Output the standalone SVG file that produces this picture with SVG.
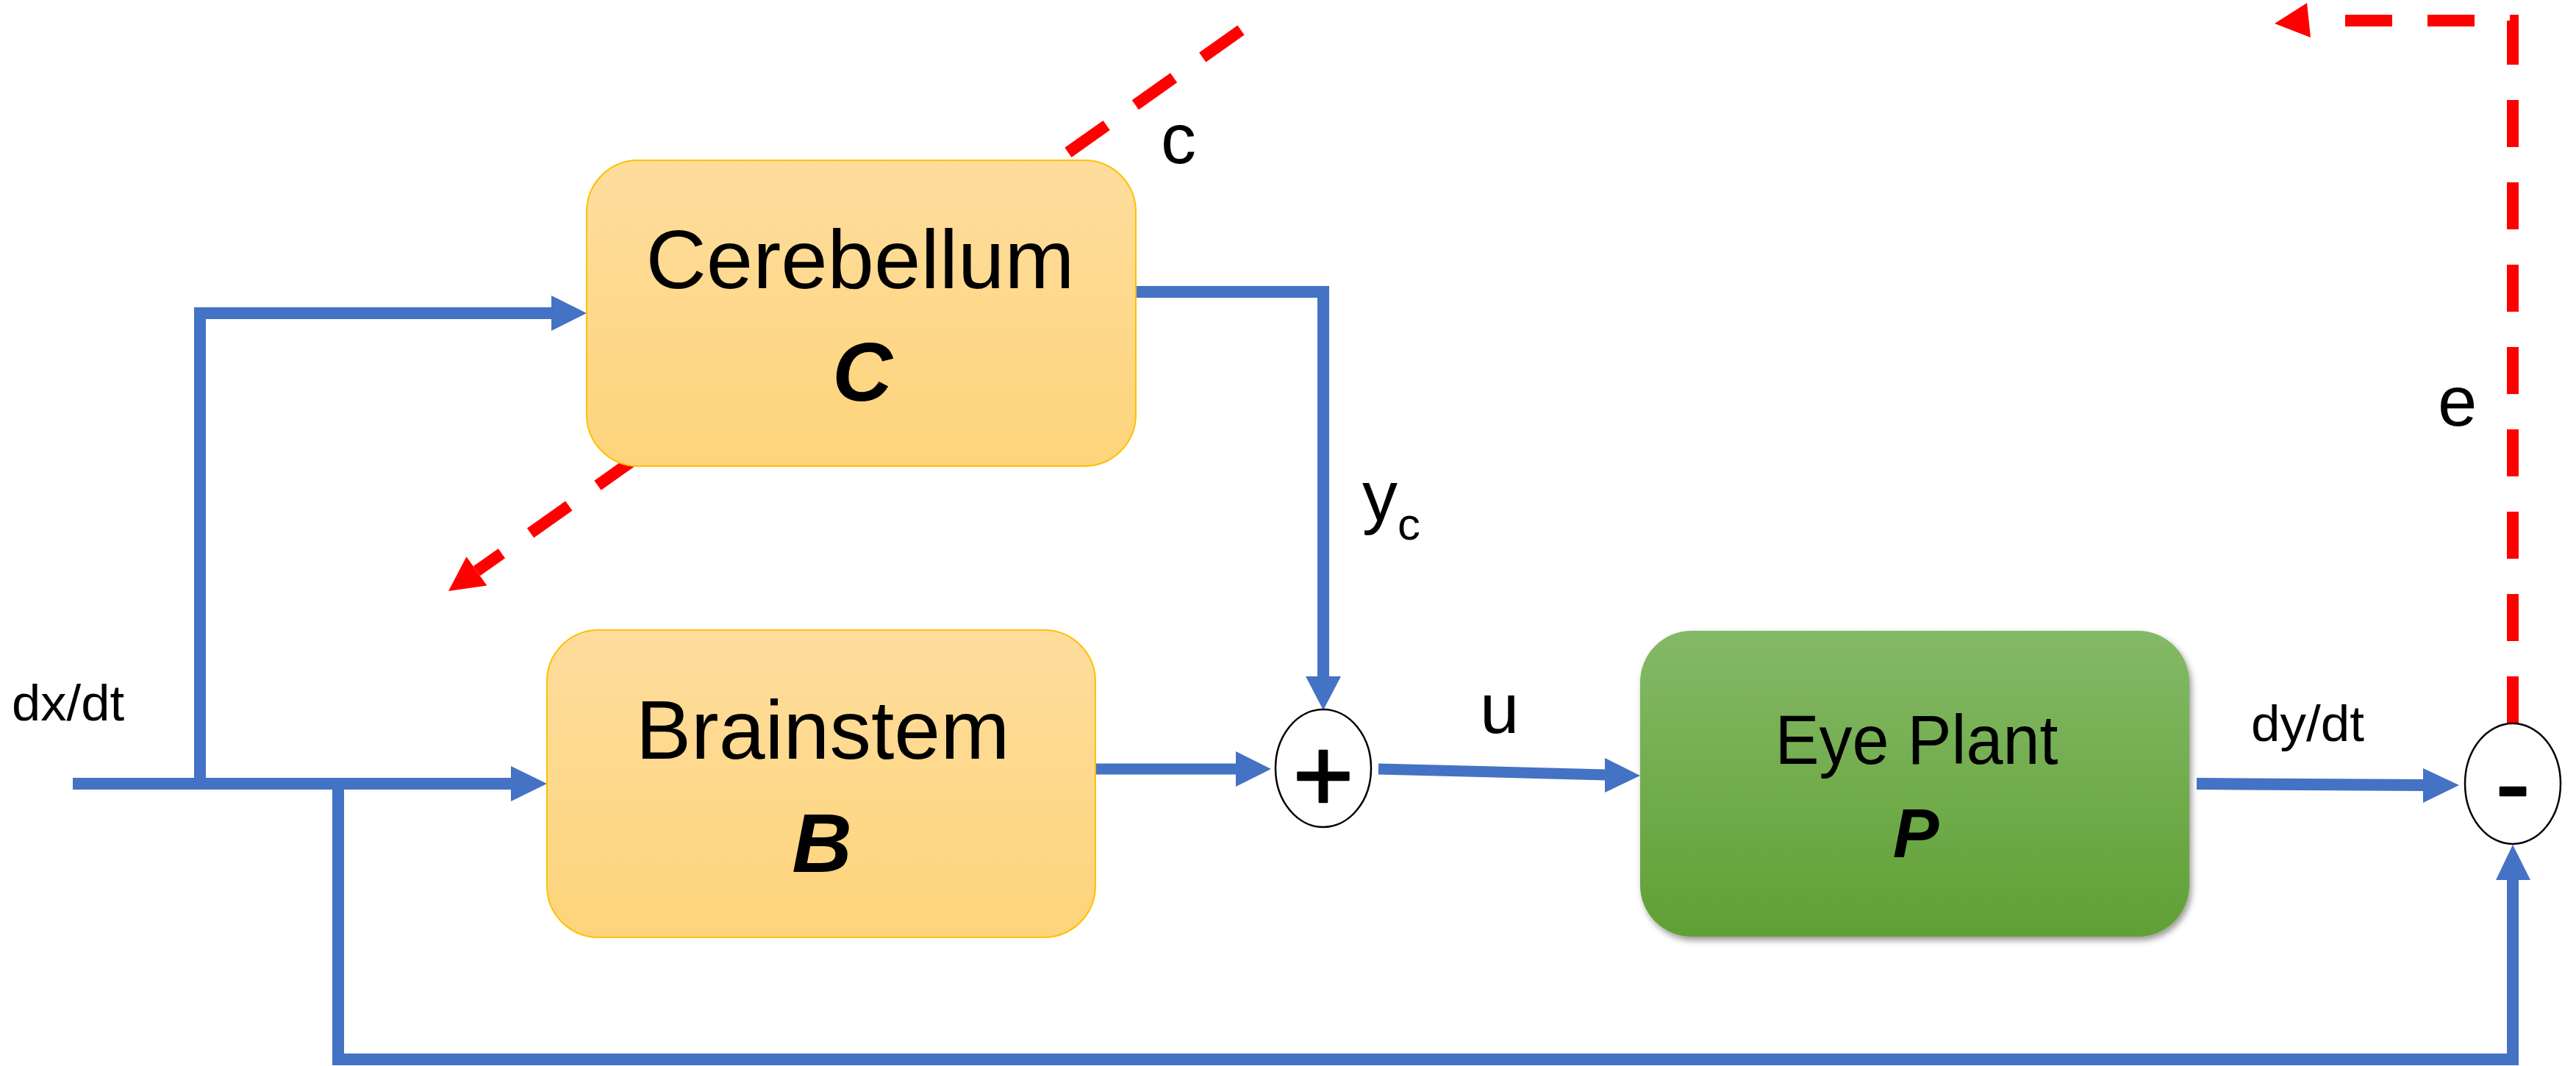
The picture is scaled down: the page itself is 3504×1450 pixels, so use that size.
<svg xmlns="http://www.w3.org/2000/svg" width="3504" height="1450" viewBox="0 0 3504 1450">
  <style>
    text { font-family: "Liberation Sans", Arial, sans-serif; fill: #000000; }
    .title { font-size: 114px; text-anchor: middle; }
    .sym { font-size: 113px; font-weight: bold; font-style: italic; text-anchor: middle; }
    .lbl { font-size: 96px; }
    .rate { font-size: 68px; }
    .op { text-anchor: middle; stroke: #000000; stroke-width: 2.5; stroke-linejoin: round; }
    .flow { fill: none; stroke: #4472C4; stroke-width: 16; stroke-linejoin: miter; }
    .head { fill: #4472C4; stroke: none; }
    .err { fill: none; stroke: #FF0000; stroke-width: 16; stroke-dasharray: 64 48; stroke-linejoin: miter; }
    .errhead { fill: #FF0000; stroke: none; }
    .orange { fill: url(#goldFill); stroke: #FFC000; stroke-width: 2; }
    .green { fill: url(#greenFill); filter: url(#shadow); }
    .junction { fill: #FFFFFF; stroke: #000000; stroke-width: 2.5; }
  </style>
  <defs>
    <linearGradient id="goldFill" x1="0" y1="0" x2="0" y2="1">
      <stop offset="0" stop-color="#FEDD9D"/>
      <stop offset="1" stop-color="#FED47B"/>
    </linearGradient>
    <linearGradient id="greenFill" x1="0" y1="0" x2="0" y2="1">
      <stop offset="0" stop-color="#84B967"/>
      <stop offset="1" stop-color="#60A034"/>
    </linearGradient>
    <filter id="shadow" x="-5%" y="-5%" width="115%" height="120%">
      <feDropShadow dx="3" dy="5" stdDeviation="4" flood-color="#000000" flood-opacity="0.4"/>
    </filter>
  </defs>

  <rect width="3504" height="1450" fill="#FFFFFF"/>

  <g id="connectors">
    <!-- learning signal c, passing behind the cerebellum block -->
    <path class="err" d="M1688 41 L648.4 776.8"/>
    <polygon class="errhead" points="610,804 662.3,796.4 634.5,757.2"/>
    <!-- error e, fed back to the top -->
    <path class="err" d="M3418 984 V28 H3142"/>
    <polygon class="errhead" points="3094,32 3138,4 3143,51"/>

    <!-- input dx/dt to brainstem -->
    <path class="flow" d="M99 1066 H696"/>
    <polygon class="head" points="695,1042 744,1066 695,1090"/>
    <!-- branch to cerebellum -->
    <path class="flow" d="M272 1066 V426 H751"/>
    <polygon class="head" points="750,402 798,426 750,450"/>
    <!-- branch to comparator -->
    <path class="flow" d="M460 1066 V1441 H3418 V1196"/>
    <polygon class="head" points="3395,1197 3418,1149 3442,1197"/>
    <!-- cerebellum output y_c -->
    <path class="flow" d="M1537 397 H1800 V921"/>
    <polygon class="head" points="1776,920 1800,966 1824,920"/>
    <!-- brainstem output to summing junction -->
    <path class="flow" d="M1490 1046 H1682" style="stroke-width:15"/>
    <polygon class="head" points="1681,1022 1729,1046 1681,1070"/>
    <!-- motor command u -->
    <path class="flow" d="M1875 1046 L2184 1054" style="stroke-width:15"/>
    <polygon class="head" points="2183,1031 2231,1055 2183,1078"/>
    <!-- eye velocity dy/dt -->
    <path class="flow" d="M2988 1066 L3297 1068"/>
    <polygon class="head" points="3296,1045 3345,1068 3296,1092"/>
  </g>

  <g id="cerebellum">
    <rect class="orange" x="798" y="218" width="747" height="416" rx="70" ry="70"/>
    <text class="title" x="1170" y="392">Cerebellum</text>
    <text class="sym" x="1173" y="545">C</text>
  </g>

  <g id="brainstem">
    <rect class="orange" x="744" y="857" width="746" height="418" rx="70" ry="70"/>
    <text class="title" x="1119" y="1032" style="font-size:113px">Brainstem</text>
    <text class="sym" x="1118" y="1186">B</text>
  </g>

  <g id="eye-plant">
    <rect class="green" x="2231" y="858" width="747" height="416" rx="70" ry="70"/>
    <text class="title" x="2607" y="1039" style="font-size:95px" textLength="385" lengthAdjust="spacingAndGlyphs">Eye Plant</text>
    <text class="sym" x="2606" y="1166" style="font-size:94px">P</text>
  </g>

  <g id="sum">
    <ellipse class="junction" cx="1800" cy="1045" rx="65" ry="80"/>
    <text class="op" x="1800" y="1104" style="font-size:142px">+</text>
  </g>

  <g id="compare">
    <ellipse class="junction" cx="3418" cy="1066" rx="65" ry="82"/>
    <text class="op" x="3418" y="1114" style="font-size:140px">-</text>
  </g>

  <g id="labels">
    <text class="rate" x="16" y="980" textLength="153" lengthAdjust="spacingAndGlyphs">dx/dt</text>
    <text class="rate" x="3062" y="1008" textLength="154" lengthAdjust="spacingAndGlyphs">dy/dt</text>
    <text class="lbl" x="1579" y="222">c</text>
    <text class="lbl" x="1853" y="708">y<tspan style="font-size:62px" dy="26">c</tspan></text>
    <text class="lbl" x="2013" y="997">u</text>
    <text class="lbl" x="3316" y="579">e</text>
  </g>
</svg>
